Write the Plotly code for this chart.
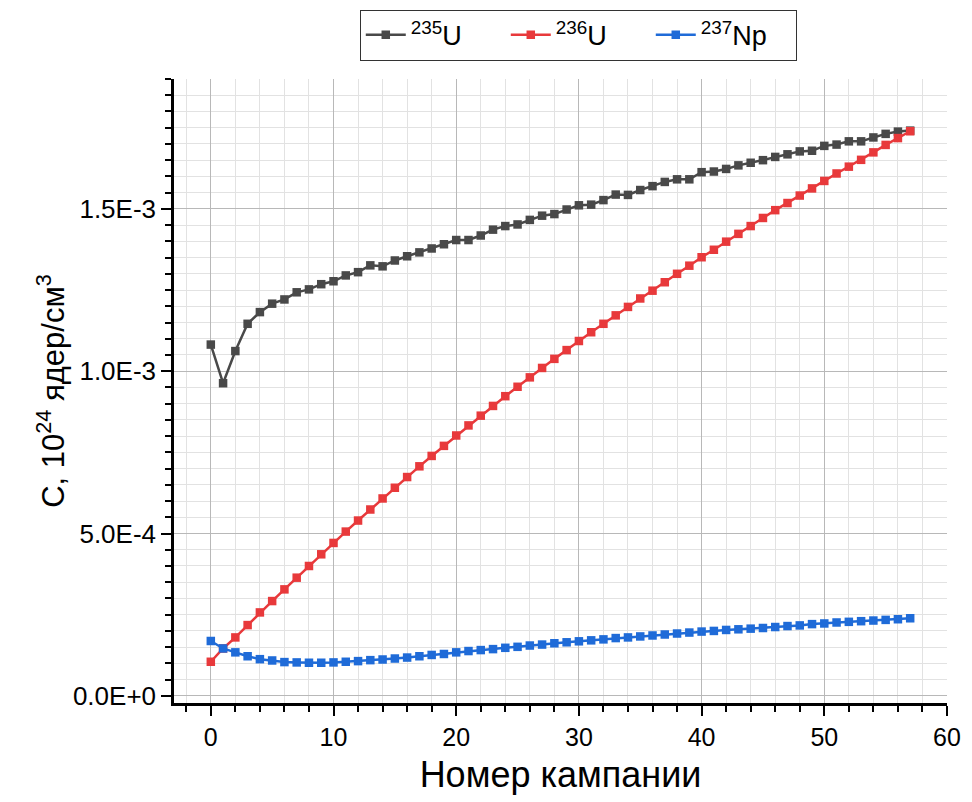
import plotly.graph_objects as go

campaign = list(range(58))

u235 = [1.082, 0.963, 1.062, 1.146, 1.182, 1.208, 1.221, 1.243, 1.252, 1.268,
        1.277, 1.295, 1.305, 1.326, 1.323, 1.341, 1.354, 1.366, 1.378, 1.391,
        1.404, 1.404, 1.418, 1.436, 1.447, 1.452, 1.466, 1.479, 1.484, 1.498,
        1.511, 1.513, 1.527, 1.544, 1.543, 1.558, 1.570, 1.583, 1.591, 1.591,
        1.613, 1.615, 1.623, 1.634, 1.642, 1.650, 1.660, 1.668, 1.677, 1.679,
        1.694, 1.698, 1.708, 1.708, 1.720, 1.731, 1.738, 1.741]

u236 = [0.105, 0.146, 0.180, 0.218, 0.257, 0.292, 0.328, 0.364, 0.400, 0.436,
        0.471, 0.506, 0.540, 0.574, 0.608, 0.641, 0.674, 0.707, 0.739, 0.770,
        0.802, 0.833, 0.863, 0.893, 0.923, 0.952, 0.981, 1.010, 1.038, 1.065,
        1.093, 1.120, 1.146, 1.172, 1.198, 1.224, 1.248, 1.274, 1.300, 1.325,
        1.351, 1.374, 1.399, 1.423, 1.447, 1.472, 1.496, 1.518, 1.541, 1.563,
        1.586, 1.609, 1.630, 1.651, 1.674, 1.697, 1.718, 1.739]

np237 = [0.169, 0.146, 0.134, 0.122, 0.113, 0.109, 0.104, 0.103, 0.102, 0.102,
         0.103, 0.105, 0.107, 0.110, 0.112, 0.115, 0.118, 0.122, 0.126, 0.129,
         0.134, 0.138, 0.141, 0.144, 0.148, 0.151, 0.155, 0.158, 0.162, 0.165,
         0.168, 0.171, 0.174, 0.178, 0.180, 0.183, 0.186, 0.189, 0.192, 0.195,
         0.198, 0.200, 0.203, 0.205, 0.207, 0.209, 0.212, 0.215, 0.217, 0.221,
         0.223, 0.226, 0.228, 0.230, 0.232, 0.234, 0.236, 0.239]

scale = 1e-3
series_names = ["<sup>235</sup>U", "<sup>236</sup>U", "<sup>237</sup>Np"]
series_colors = ["#494949", "#E8393B", "#1F6BD8"]

y_tickvals = [0.0, 5e-4, 1e-3, 1.5e-3]
y_ticktext = ["0.0E+0", "5.0E-4", "1.0E-3", "1.5E-3"]
x_tickvals = [0, 10, 20, 30, 40, 50, 60]

fig = go.Figure()
for name, vals, col in zip(series_names, [u235, u236, np237], series_colors):
    fig.add_trace(go.Scatter(
        x=campaign, y=[v * scale for v in vals], name=name,
        mode="lines+markers",
        line=dict(color=col, width=2.5),
        marker=dict(symbol="square", size=8.5, color=col),
    ))

regular = "Liberation Sans, Arial, sans-serif"

# page body has an 8px default margin, so the figure is shifted by 8px
fig.update_layout(
    width=964, height=794,
    paper_bgcolor="white", plot_bgcolor="white",
    margin=dict(l=166, r=25, t=71, b=99, autoexpand=False),
    font=dict(family=regular, color="black"),
    legend=dict(
        orientation="h", x=0.523, xanchor="center", y=1.111, yanchor="top",
        bordercolor="#333333", borderwidth=1, bgcolor="white",
        font=dict(size=27, family=regular), itemwidth=40,
        entrywidth=90, tracegroupgap=0,
    ),
    xaxis=dict(
        range=[-3, 60], tickmode="array", tickvals=x_tickvals,
        ticks="outside", ticklen=10, tickwidth=2, tickcolor="black",
        showline=True, linecolor="black", linewidth=2.5,
        showgrid=True, gridcolor="#b8b8b8", gridwidth=1,
        zeroline=False, automargin=False,
        tickfont=dict(size=25, family=regular),
        title=dict(text="Номер кампании", font=dict(size=36, family=regular), standoff=13),
        minor=dict(tickmode="linear", tick0=0, dtick=2, ticks="outside", ticklen=6,
                   tickwidth=2, tickcolor="black", showgrid=True,
                   gridcolor="#e2e2e2", gridwidth=1),
    ),
    yaxis=dict(
        range=[-2.2e-5, 1.9e-3], tickmode="array", tickvals=y_tickvals, ticktext=y_ticktext,
        ticks="outside", ticklen=10, tickwidth=2, tickcolor="black",
        showline=True, linecolor="black", linewidth=2.5,
        showgrid=True, gridcolor="#b8b8b8", gridwidth=1,
        zeroline=False, automargin=False,
        tickfont=dict(size=26, family=regular),
        title=dict(text="C, 10<sup>24</sup> ядер/см<sup>3</sup>", font=dict(size=31, family=regular), standoff=0),
        minor=dict(tickmode="linear", tick0=0, dtick=5e-5, ticks="outside", ticklen=6,
                   tickwidth=2, tickcolor="black", showgrid=True,
                   gridcolor="#e2e2e2", gridwidth=1),
    ),
)

fig.write_html("out.html")
